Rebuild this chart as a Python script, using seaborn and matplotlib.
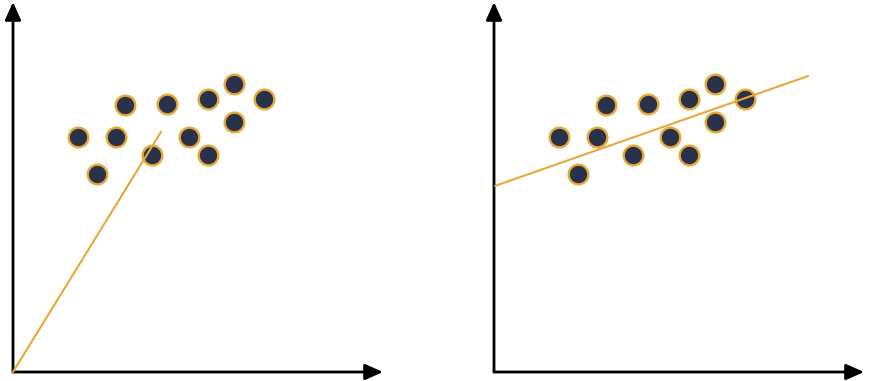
import matplotlib
matplotlib.use("Agg")
import matplotlib.pyplot as plt
import seaborn as sns
import pandas as pd

# Scatter points (same cloud in both panels), axis units 0..10
point_x = [1.76, 2.78, 2.27, 3.03, 4.16, 3.76, 4.76, 5.27, 5.97, 5.97, 6.78, 5.27]
point_y = [6.35, 6.35, 5.35, 7.22, 7.24, 5.86, 6.35, 7.38, 7.78, 6.76, 7.38, 5.86]

# Fitted lines: left forced through origin, right with intercept
left_line_x = [0.0, 4.0]
left_line_y = [0.0, 6.49]
right_line_x = [0.03, 8.49]
right_line_y = [5.03, 8.0]

FACE = "#28324a"
ORANGE = "#e8a838"

sns.set_theme(style="white")
W, H = 874, 381
fig = plt.figure(figsize=(W / 100, H / 100), dpi=100)

pts = pd.DataFrame({"x": point_x, "y": point_y})
panels = [
    (13, pd.DataFrame({"x": left_line_x, "y": left_line_y})),
    (494, pd.DataFrame({"x": right_line_x, "y": right_line_y})),
]

for x0, line_df in panels:
    ax = fig.add_axes([x0 / W, 9 / H, 370 / W, 370 / H])
    ax.set_xlim(0, 10)
    ax.set_ylim(0, 10)
    ax.axis("off")
    sns.scatterplot(data=pts, x="x", y="y", ax=ax, s=200, color=FACE,
                    edgecolor=ORANGE, linewidth=1.7, zorder=3, clip_on=False)
    sns.lineplot(data=line_df, x="x", y="y", ax=ax, color=ORANGE,
                 linewidth=1.5, zorder=4, clip_on=False)
    arrow = dict(arrowstyle="-|>,head_length=0.9,head_width=0.4",
                 color="black", lw=2.0, shrinkA=0, shrinkB=0)
    ax.annotate("", xy=(10.0, 0), xytext=(0, 0), arrowprops=arrow,
                annotation_clip=False)
    ax.annotate("", xy=(0, 10.0), xytext=(0, 0), arrowprops=arrow,
                annotation_clip=False)

fig.savefig("out.png", dpi=100, facecolor="white")
